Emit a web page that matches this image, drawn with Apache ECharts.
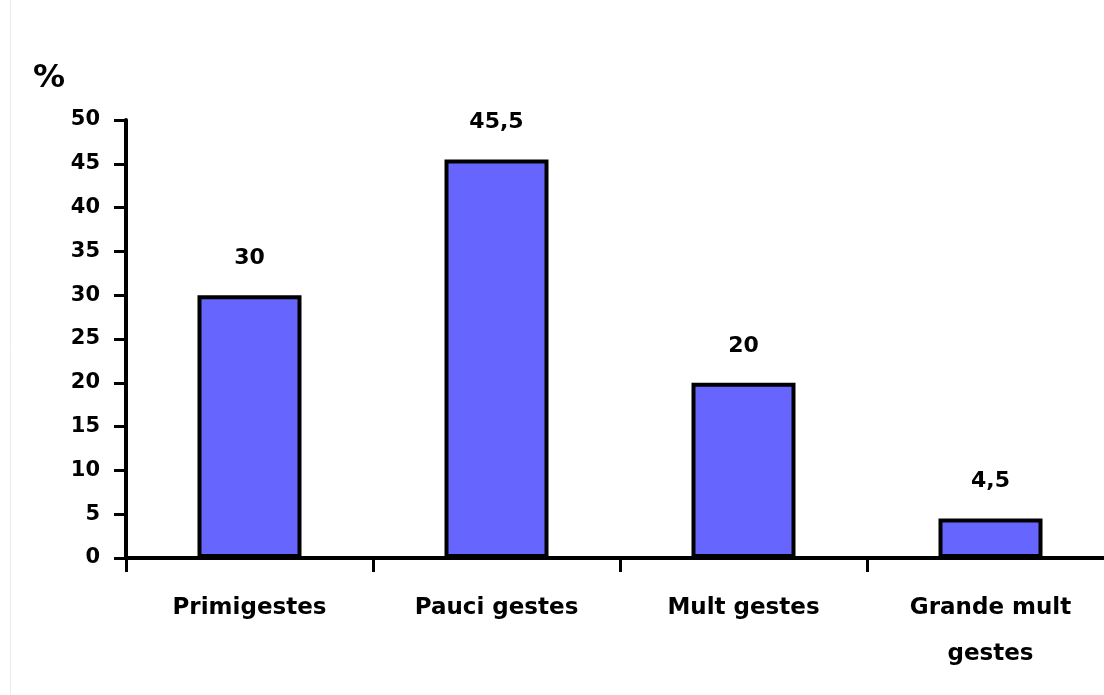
<!DOCTYPE html>
<html>
<head>
<meta charset="utf-8">
<script src="https://cdn.jsdelivr.net/npm/echarts@6/dist/echarts.min.js"></script>
<style>
  html, body { margin: 0; padding: 0; background: #ffffff; overflow: hidden; }
  /* the plot runs slightly past the right edge of the window */
  #chart { width: 1114px; height: 695px; }
</style>
</head>
<body>
<div id="chart"></div>
<script>
// Share of patients by number of previous pregnancies (%)
const categories = ['Primigestes', 'Pauci gestes', 'Mult gestes', 'Grande mult\ngestes'];
const percentages = [30, 45.5, 20, 4.5];
const yTicks = { min: 0, max: 50, interval: 5 };

const FONT = '"DejaVu Sans", Verdana, sans-serif';

const chart = echarts.init(document.getElementById('chart'), null, { renderer: 'canvas' });

chart.setOption({
  backgroundColor: '#ffffff',
  animation: false,
  title: {
    text: '%',
    left: 28,
    top: 58,
    textStyle: { fontFamily: FONT, fontWeight: 'bold', fontSize: 32, color: '#000' }
  },
  graphic: [{
    type: 'line',
    shape: { x1: 10.5, y1: 0, x2: 10.5, y2: 695 },
    style: { stroke: '#ececec', lineWidth: 1 }
  }],
  grid: { left: 126, top: 120, bottom: 137, right: 0, containLabel: false },
  xAxis: {
    type: 'category',
    data: categories,
    axisLine: { lineStyle: { color: '#000', width: 4 } },
    axisTick: { show: true, alignWithLabel: false, length: 14, lineStyle: { color: '#000', width: 3 } },
    axisLabel: {
      interval: 0,
      margin: 27,
      color: '#000',
      fontFamily: FONT,
      fontWeight: 'bold',
      fontSize: 23,
      lineHeight: 46
    }
  },
  yAxis: {
    type: 'value',
    min: yTicks.min,
    max: yTicks.max,
    interval: yTicks.interval,
    splitLine: { show: false },
    axisLine: { show: true, lineStyle: { color: '#000', width: 4 } },
    axisTick: { show: true, length: 12, lineStyle: { color: '#000', width: 3 } },
    axisLabel: {
      margin: 26,
      color: '#000',
      fontFamily: FONT,
      fontWeight: 'bold',
      fontSize: 21
    }
  },
  series: [{
    type: 'bar',
    data: percentages,
    barWidth: 104,
    itemStyle: { color: '#6666ff', borderColor: '#000', borderWidth: 4 },
    label: {
      show: true,
      position: 'top',
      distance: 26,
      color: '#000',
      fontFamily: FONT,
      fontWeight: 'bold',
      fontSize: 22,
      formatter: p => String(p.value).replace('.', ',')
    }
  }]
});
</script>
</body>
</html>
